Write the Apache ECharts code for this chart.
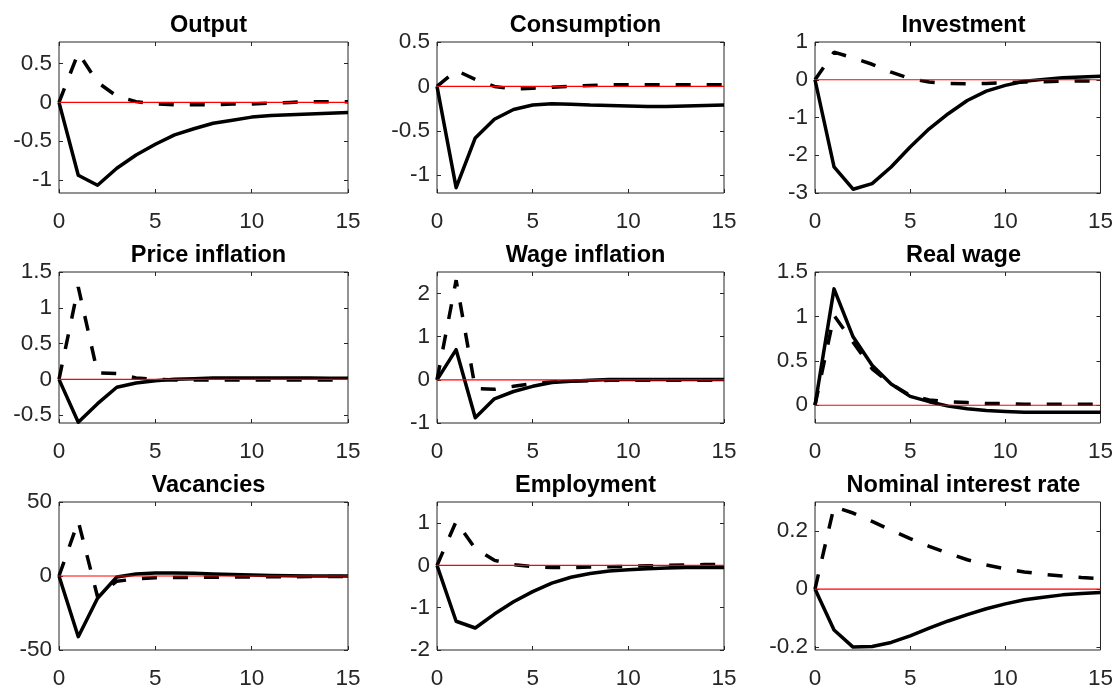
<!DOCTYPE html>
<html>
<head>
<meta charset="utf-8">
<script src="https://cdn.jsdelivr.net/npm/echarts@6/dist/echarts.min.js"></script>
<style>html,body{margin:0;padding:0;background:#fff}#c{width:1116px;height:690px}</style>
</head>
<body>
<div id="c"></div>
<script>
const periods = [0,1,2,3,4,5,6,7,8,9,10,11,12,13,14,15];
const titles = ["Output","Consumption","Investment","Price inflation","Wage inflation","Real wage","Vacancies","Employment","Nominal interest rate"];

const outputSolid = [0,-0.94,-1.07,-0.85,-0.68,-0.54,-0.42,-0.34,-0.27,-0.23,-0.19,-0.17,-0.16,-0.15,-0.14,-0.13];
const outputDashed = [0,0.64,0.26,0.08,0.01,-0.02,-0.03,-0.03,-0.03,-0.02,-0.02,-0.01,0,0.01,0.01,0.01];
const consumptionSolid = [0,-1.14,-0.58,-0.37,-0.26,-0.21,-0.195,-0.2,-0.21,-0.215,-0.22,-0.225,-0.225,-0.22,-0.215,-0.21];
const consumptionDashed = [0,0.18,0.08,0.0,-0.03,-0.02,-0.01,0.0,0.01,0.02,0.02,0.02,0.02,0.02,0.02,0.02];
const investmentSolid = [0,-2.31,-2.9,-2.75,-2.31,-1.78,-1.30,-0.9,-0.55,-0.3,-0.15,-0.04,0.01,0.05,0.07,0.09];
const investmentDashed = [0,0.73,0.58,0.41,0.2,0.03,-0.06,-0.1,-0.11,-0.1,-0.08,-0.06,-0.05,-0.04,-0.03,-0.03];
const priceInflSolid = [0,-0.6,-0.34,-0.11,-0.05,-0.02,0.0,0.01,0.02,0.02,0.02,0.02,0.02,0.02,0.015,0.015];
const priceInflDashed = [0,1.29,0.09,0.08,0.02,0.0,-0.01,-0.01,-0.01,-0.01,-0.01,-0.01,-0.01,-0.01,-0.01,-0.01];
const wageInflSolid = [0,0.7,-0.88,-0.44,-0.27,-0.15,-0.06,-0.03,-0.01,0.01,0.01,0.01,0.01,0.01,0.01,0.01];
const wageInflDashed = [0,2.31,-0.2,-0.22,-0.15,-0.09,-0.05,-0.03,-0.02,-0.01,-0.01,-0.01,-0.01,-0.01,-0.01,-0.01];
const realWageSolid = [0,1.31,0.77,0.45,0.24,0.1,0.04,-0.01,-0.04,-0.06,-0.07,-0.08,-0.08,-0.08,-0.08,-0.08];
const realWageDashed = [0,1.01,0.71,0.41,0.24,0.11,0.06,0.04,0.03,0.02,0.02,0.01,0.01,0.01,0.01,0.01];
const vacanciesSolid = [0,-41,-15,-0.7,1.3,2,2,1.8,1.3,1,0.6,0.3,0.1,0,0,0];
const vacanciesDashed = [0,37,-14,-3.5,-2,-1.2,-1,-0.9,-0.8,-0.7,-0.6,-0.5,-0.5,-0.4,-0.4,-0.3];
const employmentSolid = [0,-1.32,-1.48,-1.15,-0.86,-0.62,-0.42,-0.28,-0.19,-0.13,-0.1,-0.08,-0.06,-0.05,-0.05,-0.05];
const employmentDashed = [0,1.04,0.4,0.12,0.02,-0.03,-0.05,-0.05,-0.04,-0.03,-0.02,-0.01,0,0.01,0.02,0.02];
const rateSolid = [0,-0.141,-0.2,-0.198,-0.184,-0.161,-0.135,-0.11,-0.088,-0.068,-0.051,-0.037,-0.028,-0.02,-0.015,-0.012];
const rateDashed = [0,0.284,0.262,0.233,0.203,0.174,0.147,0.123,0.101,0.083,0.07,0.059,0.051,0.045,0.04,0.036];

const solidSeries = [outputSolid,consumptionSolid,investmentSolid,priceInflSolid,wageInflSolid,realWageSolid,vacanciesSolid,employmentSolid,rateSolid];
const dashedSeries = [outputDashed,consumptionDashed,investmentDashed,priceInflDashed,wageInflDashed,realWageDashed,vacanciesDashed,employmentDashed,rateDashed];

const yMins = [-1.17,-1.2,-3,-0.61,-1,-0.2,-50,-2,-0.21];
const yMaxs = [0.78,0.5,1,1.5,2.5,1.5,50,1.5,0.3];
const yTicks = [
  [-1,-0.5,0,0.5],
  [-1,-0.5,0,0.5],
  [-3,-2,-1,0,1],
  [-0.5,0,0.5,1,1.5],
  [-1,0,1,2],
  [0,0.5,1,1.5],
  [-50,0,50],
  [-2,-1,0,1],
  [-0.2,0,0.2]
];
const xTicks = [0,5,10,15];

const colLeft = [59,437,815];
const colWidth = [289,287,287];
const rowTop = [42,272,502];
const plotH = 151;
const axisColor = '#262626';
const FONT = '"Liberation Sans", Arial, Helvetica, sans-serif';

const grids = [], xAxes = [], yAxes = [], series = [], titleComps = [];
for (let i = 0; i < 9; i++) {
  const r = Math.floor(i / 3), c = i % 3;
  grids.push({left: colLeft[c], top: rowTop[r], width: colWidth[c], height: plotH,
    show: true, borderColor: axisColor, borderWidth: 1, backgroundColor: '#fff'});
  titleComps.push({text: titles[i], left: colLeft[c] + colWidth[c] / 2, top: rowTop[r] - 33,
    textAlign: 'center',
    textStyle: {fontFamily: FONT, fontSize: 23.5, fontWeight: 'bold', color: '#000'}});
  const tickStyle = {show: true, inside: true, length: 4, lineStyle: {color: axisColor}};
  const xBase = {type: 'value', gridIndex: i, min: 0, max: 15, interval: 5,
    splitLine: {show: false}, axisLine: {show: false, onZero: false}};
  xAxes.push(Object.assign({}, xBase, {position: 'bottom',
    axisTick: Object.assign({customValues: xTicks}, tickStyle),
    axisLabel: {show: true, margin: 17, customValues: xTicks, fontFamily: FONT, fontSize: 22.5, color: axisColor}}));
  xAxes.push(Object.assign({}, xBase, {position: 'top',
    axisTick: Object.assign({customValues: xTicks}, tickStyle),
    axisLabel: {show: false}}));
  const yBase = {type: 'value', gridIndex: i, min: yMins[i], max: yMaxs[i],
    splitLine: {show: false}, axisLine: {show: false, onZero: false}};
  yAxes.push(Object.assign({}, yBase, {position: 'left',
    axisTick: Object.assign({customValues: yTicks[i]}, tickStyle),
    axisLabel: {show: true, margin: 7, customValues: yTicks[i], fontFamily: FONT, fontSize: 22.5, color: axisColor,
      formatter: v => String(v)}}));
  yAxes.push(Object.assign({}, yBase, {position: 'right',
    axisTick: Object.assign({customValues: yTicks[i]}, tickStyle),
    axisLabel: {show: false}}));
  const xi = 2 * i, yi = 2 * i;
  series.push({type: 'line', xAxisIndex: xi, yAxisIndex: yi, showSymbol: false, silent: true, animation: false,
    data: periods.map((p, k) => [p, solidSeries[i][k]]),
    lineStyle: {color: '#000', width: 3.5, type: 'solid', join: 'round'}});
  series.push({type: 'line', xAxisIndex: xi, yAxisIndex: yi, showSymbol: false, silent: true, animation: false,
    data: periods.map((p, k) => [p, dashedSeries[i][k]]),
    lineStyle: {color: '#000', width: 3.5, type: [15, 16], cap: 'butt'}});
  series.push({type: 'line', xAxisIndex: xi, yAxisIndex: yi, showSymbol: false, silent: true, animation: false,
    data: [[periods[0], 0], [periods[periods.length - 1], 0]],
    lineStyle: {color: '#ff0000', width: 1.2}});
}

const chart = echarts.init(document.getElementById('c'), null, {renderer: 'canvas'});
chart.setOption({
  animation: false,
  backgroundColor: '#fff',
  title: titleComps,
  grid: grids,
  xAxis: xAxes,
  yAxis: yAxes,
  series: series
});
</script>
</body>
</html>
